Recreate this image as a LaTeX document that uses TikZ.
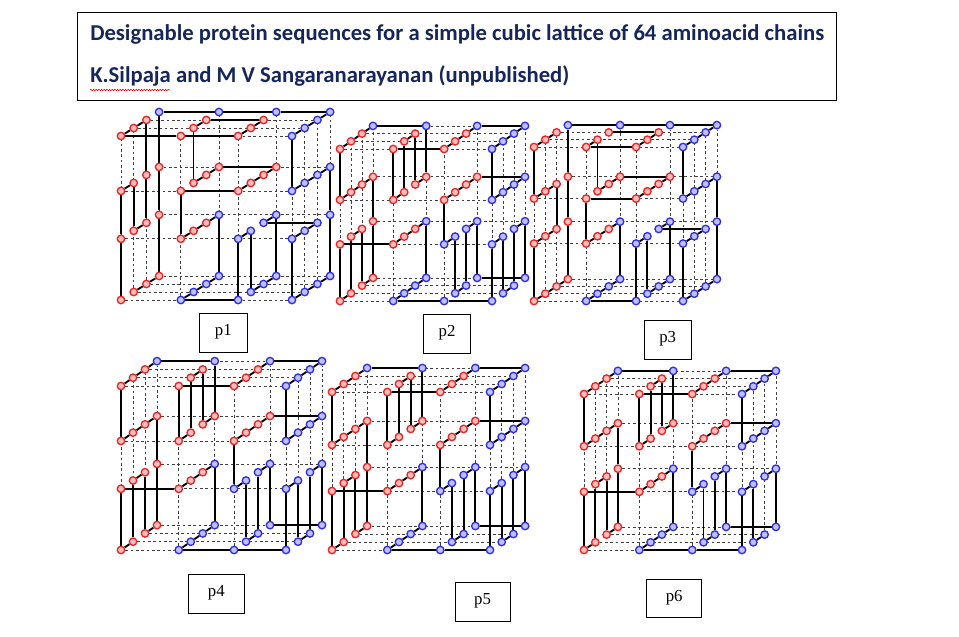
\documentclass[tikz,border=0pt]{standalone}
\usepackage{fontspec}
\setmainfont{Liberation Serif}
\newfontfamily\titlefont{Carlito}
\usetikzlibrary{decorations.pathmorphing}
\pgfdeclarelayer{grid}
\pgfdeclarelayer{bonds}
\pgfsetlayers{grid,bonds,main}
\definecolor{titleblue}{RGB}{22,38,92}
\definecolor{beadred}{RGB}{235,35,35}
\definecolor{beadblue}{RGB}{45,45,230}

% chain conformations: lattice sites x/y/z in chain order
\def\chainone{0/0/1,0/0/2,0/0/3,0/1/3,0/2/3,0/3/3,1/3/3,2/3/3,3/3/3,3/3/2,3/3/1,3/3/0,3/2/0,3/2/1,3/2/2,3/2/3,3/1/3,3/0/3,3/0/2,3/0/1,3/0/0,3/1/0,3/1/1,3/1/2,2/1/2,2/1/3,2/0/3,2/0/2,2/0/1,2/1/1,2/1/0,2/0/0,1/0/0,1/0/1,1/0/2,1/0/3,1/1/3,1/1/2,1/1/1,1/1/0,1/2/0,2/2/0,2/2/1,2/2/2,2/2/3,1/2/3,1/2/2,1/2/1,1/3/1,1/3/2,2/3/2,2/3/1,2/3/0,1/3/0,0/3/0,0/3/1,0/3/2,0/2/2,0/1/2,0/1/1,0/2/1,0/2/0,0/1/0,0/0/0}
\def\chaintwo{3/0/2,3/0/1,3/1/1,3/1/0,3/0/0,2/0/0,1/0/0,1/0/1,1/0/2,1/0/3,1/1/3,1/1/2,1/1/1,1/1/0,0/1/0,0/0/0,0/0/1,0/1/1,0/1/2,0/0/2,0/0/3,0/1/3,0/2/3,0/2/2,0/2/1,0/2/0,0/3/0,0/3/1,0/3/2,0/3/3,1/3/3,1/2/3,1/2/2,1/3/2,1/3/1,1/2/1,1/2/0,1/3/0,2/3/0,2/3/1,2/3/2,2/3/3,3/3/3,3/3/2,3/3/1,3/3/0,3/2/0,3/2/1,3/2/2,3/2/3,2/2/3,2/2/2,2/2/1,2/2/0,2/1/0,2/1/1,2/0/1,2/0/2,2/1/2,2/1/3,2/0/3,3/0/3,3/1/3,3/1/2}
\def\chainthree{0/3/2,0/3/1,0/3/0,0/2/0,0/2/1,0/2/2,0/1/2,0/1/1,0/1/0,0/0/0,0/0/1,0/0/2,0/0/3,0/1/3,0/2/3,0/3/3,1/3/3,2/3/3,3/3/3,3/3/2,3/3/1,3/3/0,3/2/0,3/2/1,3/2/2,3/2/3,3/1/3,3/0/3,3/0/2,3/0/1,3/0/0,3/1/0,3/1/1,3/1/2,2/1/2,2/1/3,2/0/3,2/0/2,2/0/1,2/1/1,2/1/0,2/0/0,1/0/0,1/0/1,1/0/2,1/0/3,1/1/3,1/1/2,1/1/1,1/1/0,1/2/0,2/2/0,2/2/1,2/2/2,2/2/3,1/2/3,1/2/2,1/2/1,1/3/1,1/3/0,2/3/0,2/3/1,2/3/2,1/3/2}

% #1 name, #2 #3 front bottom left, #4 width, #5 height, #6 #7 depth step, #8 chain
\newcommand{\drawlattice}[8]{%
  \foreach \x/\y/\z in #8 {
    \pgfmathsetmacro\px{#2+{0,0.35,0.685,1}[\x]*#4+\z*#6}
    \pgfmathsetmacro\py{#3-{0,0.373,0.665,1}[\y]*#5-\z*#7}
    \pgfmathtruncatemacro\hp{(\x==3)||(\y==3&&\z==3)||(\x==2&&\y<2)||(\x==1&&\y==0)||(\x==1&&\y==1&&\z==3)}
    \ifnum\hp=1 \def\bcol{beadblue}\else\def\bcol{beadred}\fi
    \node[bead=\bcol] (#1-\x\y\z) at (\px,\py) {};
  }
  % bonds along the chain
  \begin{pgfonlayer}{bonds}
    \foreach \x/\y/\z [count=\i] in #8 {
      \ifnum\i>1 \draw[bond] (\prevbead) -- (#1-\x\y\z); \fi
      \xdef\prevbead{#1-\x\y\z}
    }
  \end{pgfonlayer}
  % dashed lattice lines on the faces
  \begin{pgfonlayer}{grid}
    \foreach \a in {0,...,3}
      \foreach \b in {0,...,3} {
        \pgfmathtruncatemacro\surf{(\a==0)||(\a==3)||(\b==0)||(\b==3)}
        \ifnum\surf=1
          \draw[gridline] (#1-0\a\b) -- (#1-3\a\b);
          \draw[gridline] (#1-\a0\b) -- (#1-\a3\b);
        \fi
      }
  \end{pgfonlayer}
}

\begin{document}
\begin{tikzpicture}[x=0.75pt,y=-0.75pt]
    \tikzset{bead/.style = {circle,inner sep=0pt,minimum size=5.6pt,draw=#1,line width=1pt,fill=#1!30!white}}
    \tikzset{bond/.style = {black,line width=1.4pt}}
    \tikzset{gridline/.style = {black!75,line width=0.6pt,dash pattern=on 2pt off 2pt}}
    \tikzset{labelbox/.style = {draw,line width=0.6pt,minimum width=#1,minimum height=29pt,inner sep=0pt,text depth=0.46em,font=\fontsize{12.6}{14}\selectfont}}
    \tikzset{titletext/.style = {anchor=west,inner sep=0pt,text=titleblue,font=\titlefont\bfseries\fontsize{17}{20}\selectfont}}
    \useasboundingbox (0,0) rectangle (959,636);

    % title
    \node[draw,line width=0.8pt,minimum width=569pt,minimum height=66pt,anchor=north west,inner sep=0pt] (titlebox) at (77,12) {};
    \node[titletext] (line1) at (90,34) {Designable protein sequences for a simple cubic lattice of 64 aminoacid chains};
    \node[titletext] (line2) at (90,76) {K.Silpaja and M V Sangaranarayanan (unpublished)};
    \coordinate (squig-a) at (90,90);
    \coordinate (squig-b) at (170,90);
    \draw[red,line width=0.5pt,decorate,decoration={snake,amplitude=0.5pt,segment length=2pt}] (squig-a) -- (squig-b);

    % conformations
    \drawlattice{c1}{121}{300}{171}{164}{12.7}{8}{\chainone}
    \drawlattice{c2}{340}{301}{152}{152}{11}{7.7}{\chaintwo}
    \drawlattice{c3}{534}{301}{149}{154}{11.3}{7.3}{\chainthree}
    \drawlattice{c4}{121}{550}{165}{164}{12}{8.3}{\chaintwo}
    \drawlattice{c5}{332}{550}{158}{158}{11.7}{8}{\chaintwo}
    \drawlattice{c6}{584}{550}{158}{156}{11.3}{7.7}{\chaintwo}
    \begin{pgfonlayer}{bonds}
      \draw[bond] (c2-302) -- (c2-312);
      \draw[bond] (c4-302) -- (c4-312);
      \draw[bond] (c5-302) -- (c5-312);
    \end{pgfonlayer}

    % labels
    \node[labelbox=36pt] (p1) at (223.3,332.8) {p1};
    \node[labelbox=35.5pt] (p2) at (447,333.8) {p2};
    \node[labelbox=35pt] (p3) at (667.7,339.7) {p3};
    \node[labelbox=42pt] (p4) at (216.3,593.8) {p4};
    \node[labelbox=41.3pt] (p5) at (482.5,601.7) {p5};
    \node[labelbox=41.3pt] (p6) at (674.2,598.5) {p6};
\end{tikzpicture}
\end{document}
